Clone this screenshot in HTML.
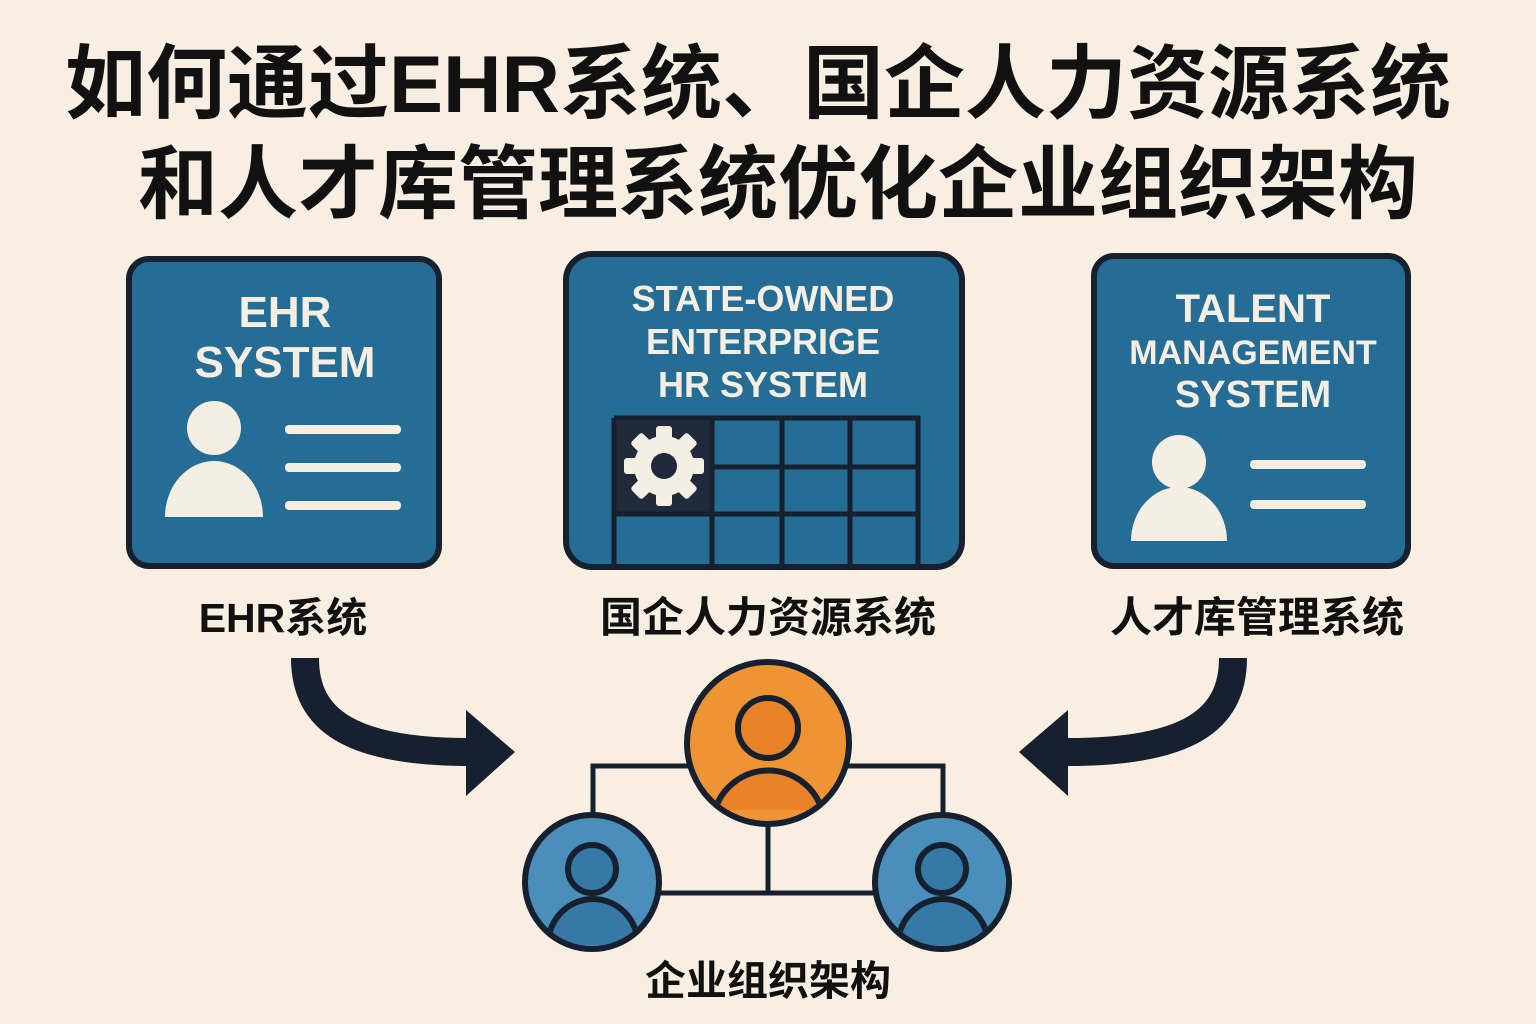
<!DOCTYPE html>
<html><head><meta charset="utf-8"><style>
body{margin:0;width:1536px;height:1024px;background:#f8efe2;overflow:hidden}
svg{display:block}
</style></head><body>
<svg width="1536" height="1024" viewBox="0 0 1536 1024" xmlns="http://www.w3.org/2000/svg">
<rect width="1536" height="1024" fill="#f8efe2"/>
<g font-family="'Liberation Sans','Noto Sans CJK SC',sans-serif" font-weight="bold" fill="#111" text-anchor="middle">
<text x="758" y="112" font-size="81">如何通过EHR系统、国企人力资源系统</text>
<text x="778" y="212" font-size="80">和人才库管理系统优化企业组织架构</text>
</g>
<g stroke="#17202e" stroke-width="6" fill="#266d96">
<rect x="129" y="259" width="310" height="307" rx="20"/>
<rect x="566" y="254" width="396" height="313" rx="26"/>
<rect x="1094" y="256" width="314" height="310" rx="20"/>
</g>
<g font-family="'Liberation Sans',sans-serif" font-weight="bold" fill="#f5efe3" text-anchor="middle">
<text x="285" y="327" font-size="44">EHR</text>
<text x="285" y="377" font-size="44">SYSTEM</text>
<text x="763" y="311" font-size="36">STATE-OWNED</text>
<text x="763" y="354" font-size="36">ENTERPRIGE</text>
<text x="763" y="397" font-size="36">HR SYSTEM</text>
<text x="1253" y="322" font-size="40">TALENT</text>
<text x="1253" y="364" font-size="34">MANAGEMENT</text>
<text x="1253" y="407" font-size="38">SYSTEM</text>
</g>
<g fill="#f5efe3">
<circle cx="214" cy="428" r="27"/>
<path d="M165 517 A49 56 0 0 1 263 517 Z"/>
<rect x="285" y="425" width="116" height="9" rx="4"/>
<rect x="285" y="463" width="116" height="9" rx="4"/>
<rect x="285" y="501" width="116" height="9" rx="4"/>
<circle cx="1179" cy="462" r="27"/>
<path d="M1131 541 A48 54 0 0 1 1227 541 Z"/>
<rect x="1250" y="460" width="116" height="9" rx="4"/>
<rect x="1250" y="500" width="116" height="9" rx="4"/>
</g>
<rect x="614" y="418" width="98" height="96" fill="#1f2a3a"/>
<g stroke="#17202e" stroke-width="5" fill="none">
<path d="M614 418 H918 V566 M614 418 V566 M712 418 V566 M782 418 V566 M850 418 V566 M712 467 H918 M614 514 H918"/>
</g>
<g fill="#f5efe3">
<circle cx="664" cy="466" r="30"/>
<g transform="translate(664 466)">
<rect x="-8" y="-40" width="16" height="80" rx="3"/>
<rect x="-8" y="-40" width="16" height="80" rx="3" transform="rotate(45)"/>
<rect x="-8" y="-40" width="16" height="80" rx="3" transform="rotate(90)"/>
<rect x="-8" y="-40" width="16" height="80" rx="3" transform="rotate(135)"/>
</g>
<circle cx="664" cy="466" r="13" fill="#1f2a3a"/>
</g>
<g font-family="'Liberation Sans','Noto Sans CJK SC',sans-serif" font-weight="bold" fill="#111" text-anchor="middle">
<text x="283" y="632" font-size="41">EHR系统</text>
<text x="768" y="632" font-size="42">国企人力资源系统</text>
<text x="1257" y="632" font-size="42">人才库管理系统</text>
<text x="768" y="995" font-size="41">企业组织架构</text>
</g>
<g fill="none" stroke="#17202e" stroke-width="28">
<path d="M305 658 C305 720 350 752 470 752"/>
<path d="M1233 658 C1233 720 1188 752 1068 752"/>
</g>
<g fill="#17202e">
<path d="M466 710 L515 752 L466 796 Z"/>
<path d="M1068 710 L1019 752 L1068 796 Z"/>
</g>
<g stroke="#17202e" stroke-width="5" fill="none">
<path d="M690 766 H593 V820 M846 766 H943 V820 M768 823 V893 M655 893 H880"/>
</g>
<defs>
<clipPath id="c1"><circle cx="768" cy="743" r="78"/></clipPath>
<clipPath id="c2"><circle cx="592" cy="882" r="64"/></clipPath>
<clipPath id="c3"><circle cx="942" cy="882" r="64"/></clipPath>
</defs>
<g stroke="#17202e" stroke-width="6">
<circle cx="768" cy="743" r="81" fill="#ef9433"/>
<circle cx="592" cy="882" r="67" fill="#4a8fbb"/>
<circle cx="942" cy="882" r="67" fill="#4a8fbb"/>
</g>
<g stroke="#17202e" stroke-width="6">
<circle cx="768" cy="728" r="30" fill="#e8832a"/>
<path d="M715 810 A56 56 0 0 1 822 810" fill="#e8832a" clip-path="url(#c1)"/>
<circle cx="592" cy="869" r="24" fill="#357aa6"/>
<path d="M548 945 A45 46 0 0 1 638 945" fill="#357aa6" clip-path="url(#c2)"/>
<circle cx="942" cy="869" r="24" fill="#357aa6"/>
<path d="M898 945 A45 46 0 0 1 988 945" fill="#357aa6" clip-path="url(#c3)"/>
</g>
</svg>
</body></html>
